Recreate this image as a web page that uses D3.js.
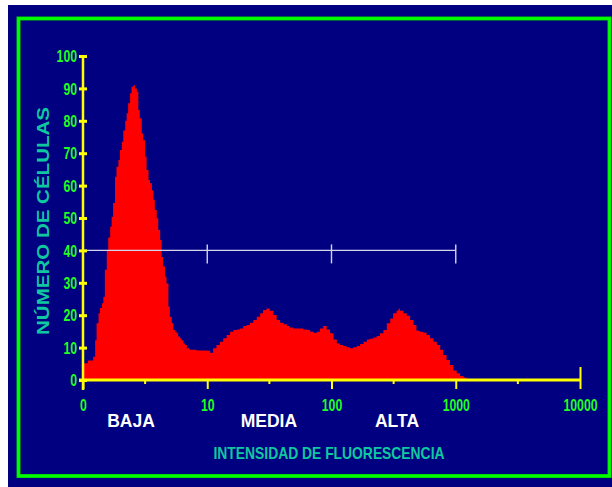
<!DOCTYPE html>
<html>
<head>
<meta charset="utf-8">
<script src="https://cdn.jsdelivr.net/npm/d3@7"></script>
<style>
  html, body { margin: 0; padding: 0; background: #ffffff; }
  svg { display: block; }
</style>
</head>
<body>
<svg id="chart" width="612" height="487"></svg>
<script>
// Fluorescence histogram: cell count per channel (log amplifier, 4 decades over 1024 channels)
const channels = [0, 10, 21, 25, 28, 32, 35, 39, 42, 45, 49, 52, 56, 59, 62, 66, 69, 73, 76, 80,
  83, 87, 90, 93, 97, 100, 104, 107, 111, 114, 117, 121, 124, 128, 131, 135, 138, 142, 145, 148,
  152, 155, 159, 162, 165, 169, 172, 176, 179, 183, 186, 190, 193, 196, 200, 203, 207, 210, 214, 220,
  234, 255, 262, 268, 275, 282, 289, 296, 303, 310, 317, 323, 330, 337, 344, 351, 358, 365, 371, 378,
  385, 392, 399, 406, 413, 420, 426, 433, 447, 454, 461, 468, 475, 482, 488, 495, 502, 509, 516, 523,
  530, 536, 543, 550, 557, 564, 571, 578, 585, 591, 598, 605, 612, 619, 626, 633, 639, 646, 650, 653,
  660, 667, 674, 681, 687, 694, 701, 708, 715, 722, 729, 736, 742, 749, 756, 763, 770, 777, 784, 790, 797];
const cellCounts = [5.2, 6.0, 7.2, 12.3, 17.5, 20.6, 22.2, 23.7, 25.7, 34.0, 40.0, 44.0, 47.3, 50.4, 54.6, 62.7, 65.8, 67.9, 71.0, 73.5,
  77.0, 80.0, 82.3, 85.4, 88.5, 90.5, 91.0, 90.0, 89.0, 83.3, 80.8, 76.1, 74.0, 68.9, 64.8, 61.7, 60.7, 58.6, 55.6, 52.5,
  49.9, 46.3, 43.2, 38.0, 35.0, 31.9, 29.8, 22.6, 19.5, 17.5, 15.4, 14.9, 14.4, 13.4, 12.9, 12.3, 11.3, 10.8, 9.8, 9.3,
  9.1, 9.0, 8.4, 9.8, 10.8, 11.8, 12.9, 13.9, 14.9, 15.4, 15.6, 15.9, 16.7, 17.0, 17.7, 18.5, 19.5, 20.6, 21.6, 22.1,
  21.4, 20.1, 18.5, 17.7, 17.2, 16.7, 16.2, 15.9, 15.9, 15.6, 15.4, 14.9, 14.6, 14.9, 15.9, 16.7, 15.6, 14.4, 12.5, 11.3,
  10.8, 10.5, 10.1, 9.8, 10.1, 10.5, 11.1, 11.8, 12.5, 12.7, 13.1, 13.6, 14.4, 15.4, 17.5, 19.0, 20.6, 21.4, 22.0, 21.4,
  20.6, 19.8, 18.5, 17.0, 15.2, 14.9, 14.6, 13.9, 12.9, 11.8, 10.8, 9.3, 7.7, 6.2, 4.6, 2.9, 2.1, 1.2, 0.8, 0.4, 0];

// Axis ticks
const yTicks = [0, 10, 20, 30, 40, 50, 60, 70, 80, 90, 100];
const xMajorChannels = [0, 256, 512, 768, 1024];
const xMajorLabels = ["0", "10", "100", "1000", "10000"];
const xMinorChannels = [128, 384, 640, 896];

// Intensity gates drawn at 40 cells
const gateLevel = 40;
const gateStart = 2;
const gateMarks = [256, 512, 768];

// Region names under the axis
const regionNames = ["BAJA", "MEDIA", "ALTA"];
const regionCenters = [99, 383, 647];

const yTitle = "NÚMERO DE CÉLULAS";
const xTitle = "INTENSIDAD DE FLUORESCENCIA";

const svg = d3.select("#chart");
const sans = "'Liberation Sans', Arial, Helvetica, sans-serif";
const digitWidth = 6.8;   // condensed numerals

const x = d3.scaleLinear().domain([0, 1024]).range([83, 580]);
const y = d3.scaleLinear().domain([0, 100]).range([380, 56]);

// Backdrop and frame
svg.append("rect").attr("x", 8).attr("y", 5).attr("width", 604).attr("height", 482).attr("fill", "#000080");
svg.append("rect").attr("x", 18.5).attr("y", 18.5).attr("width", 591).attr("height", 457.5)
  .attr("fill", "none").attr("stroke", "#00cc00").attr("stroke-width", 4);
svg.append("rect").attr("x", 18.5).attr("y", 18.5).attr("width", 591).attr("height", 457.5)
  .attr("fill", "none").attr("stroke", "#00ff00").attr("stroke-width", 2.6);

// Histogram
const hist = channels.map((c, i) => ({ c, n: cellCounts[i] }));
const area = d3.area()
  .x(d => x(d.c))
  .y0(y(0))
  .y1(d => y(d.n))
  .curve(d3.curveStepAfter);
svg.append("path").datum(hist).attr("d", area).attr("fill", "#ff0000");

// Gate line with markers
const gate = svg.append("g").attr("stroke", "#d4d4ec").attr("stroke-width", 1.4);
gate.append("line")
  .attr("x1", x(gateStart)).attr("x2", x(gateMarks[gateMarks.length - 1]))
  .attr("y1", y(gateLevel)).attr("y2", y(gateLevel));
gate.selectAll("line.mark").data(gateMarks).join("line").attr("class", "mark")
  .attr("x1", d => x(d)).attr("x2", d => x(d))
  .attr("y1", y(gateLevel) - 6).attr("y2", y(gateLevel) + 13);

// Y axis
const yAxis = svg.append("g").attr("transform", `translate(${x(0)},0)`)
  .call(d3.axisLeft(y).tickValues(yTicks).tickSize(0).tickPadding(6));
yAxis.select(".domain").remove();
yAxis.append("line").attr("x1", 0).attr("x2", 0).attr("y1", y(100) - 1).attr("y2", y(0) + 10)
  .attr("stroke", "#ffff00").attr("stroke-width", 2.5);
yAxis.selectAll(".tick line").attr("x1", -4).attr("x2", 4)
  .attr("stroke", "#ffff00").attr("stroke-width", 3);
yAxis.selectAll(".tick text")
  .attr("fill", "#22ff22").attr("font-family", sans).attr("font-weight", "bold")
  .attr("font-size", 16).attr("x", -6).attr("dy", "0.36em")
  .attr("textLength", d => String(d).length * digitWidth).attr("lengthAdjust", "spacingAndGlyphs");

// X axis
const xAxis = svg.append("g").attr("transform", `translate(0,${y(0)})`);
xAxis.append("line").attr("x1", x(0) - 4).attr("x2", x(1024) + 1).attr("y1", 0).attr("y2", 0)
  .attr("stroke", "#ffff00").attr("stroke-width", 3);
xAxis.call(d3.axisBottom(x).tickValues(xMajorChannels)
    .tickFormat((d, i) => xMajorLabels[i]).tickSize(9).tickPadding(11))
  .call(g => g.select(".domain").remove());
xAxis.selectAll(".tick line").attr("stroke", "#ffff00").attr("stroke-width", 2);
xAxis.selectAll(".tick").filter(d => d === 1024).select("line").attr("y1", -13);
xAxis.selectAll(".tick text")
  .attr("fill", "#22ff22").attr("font-family", sans).attr("font-weight", "bold")
  .attr("font-size", 16)
  .attr("textLength", (d, i) => xMajorLabels[i].length * digitWidth).attr("lengthAdjust", "spacingAndGlyphs");
xAxis.selectAll("line.minor").data(xMinorChannels).join("line").attr("class", "minor")
  .attr("x1", d => x(d)).attr("x2", d => x(d)).attr("y1", 0).attr("y2", 4)
  .attr("stroke", "#ffff00").attr("stroke-width", 2);

// Region names
svg.append("g").selectAll("text").data(regionNames).join("text")
  .attr("x", (d, i) => x(regionCenters[i])).attr("y", 427)
  .attr("text-anchor", "middle").attr("fill", "#ffffff")
  .attr("font-family", sans).attr("font-weight", "bold").attr("font-size", 17.5)
  .text(d => d);

// Axis titles
svg.append("text").attr("x", 329).attr("y", 459)
  .attr("text-anchor", "middle").attr("fill", "#10c8a0")
  .attr("font-family", sans).attr("font-weight", "bold").attr("font-size", 17)
  .attr("textLength", 231).attr("lengthAdjust", "spacingAndGlyphs")
  .text(xTitle);
svg.append("text").attr("transform", "translate(49,221) rotate(-90)")
  .attr("text-anchor", "middle").attr("fill", "#10c8a0")
  .attr("font-family", sans).attr("font-weight", "bold").attr("font-size", 16)
  .attr("textLength", 228).attr("lengthAdjust", "spacingAndGlyphs")
  .text(yTitle);
</script>
</body>
</html>
